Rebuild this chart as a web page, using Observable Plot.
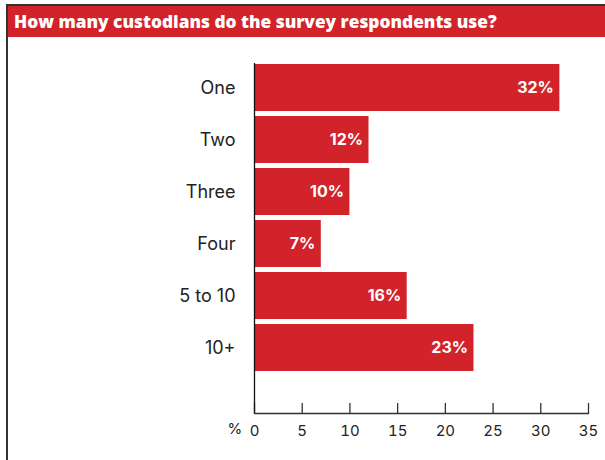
<!DOCTYPE html>
<html>
<head>
<meta charset="utf-8">
<script src="https://cdn.jsdelivr.net/npm/d3@7"></script>
<script src="https://cdn.jsdelivr.net/npm/@observablehq/plot@0.6"></script>
<style>
  html, body { margin: 0; padding: 0; background: #fff; }
  #wrap { position: absolute; left: 6px; top: 4px; width: 599px; height: 456px;
          border-top: 2px solid #333; border-left: 2px solid #333; }
  #title { height: 31px; background: #d2232a; color: #fff; font-family: "Open Sans", sans-serif;
           font-weight: 800; font-size: 17.3px; line-height: 31px; padding-left: 6px; white-space: nowrap; }
  #chart svg { display: block; }
</style>
</head>
<body>
<div id="wrap">
  <div id="title">How many custodians do the survey respondents use?</div>
  <div id="chart"></div>
</div>
<script>
const categories = ["One", "Two", "Three", "Four", "5 to 10", "10+"];
const values = [32, 12, 10, 7, 16, 23];
const xTicks = [0, 5, 10, 15, 20, 25, 30, 35];
const unitLabel = "%";

const data = categories.map((c, i) => ({category: c, value: values[i]}));
const red = "#d2232a";
const ink = "#222";
const font = "Inter, 'Open Sans', sans-serif";

const chart = Plot.plot({
  width: 597,
  height: 423,
  marginLeft: 246,
  marginRight: 17,
  marginTop: 26,
  marginBottom: 47,
  style: {fontFamily: font, color: ink, background: "#fff"},
  x: {domain: [0, 35], ticks: xTicks},
  y: {domain: categories, range: [26.5, 334.5], paddingInner: 0.1, paddingOuter: 0, axis: null},
  marks: [
    Plot.barX(data, {x: "value", y: "category", fill: red}),
    Plot.text(data, {x: "value", y: "category", text: d => d.value + "%", textAnchor: "end", dx: -6,
      fill: "#fff", fontWeight: "bold", fontSize: 16}),
    Plot.text(data, {x: 0, y: "category", text: "category", textAnchor: "end", dx: -19,
      fill: ink, fontSize: 18}),
    Plot.ruleX(xTicks, {x: d => d, insetTop: 340, stroke: "#333", strokeWidth: 1.3}),
    Plot.ruleX([0], {stroke: "#111", strokeWidth: 1.3}),
    Plot.frame({anchor: "bottom", stroke: "#333", strokeWidth: 1.3}),
    Plot.axisX(xTicks, {tickSize: 0, tickPadding: 12, fontSize: 15, fill: ink, label: null}),
    Plot.text([unitLabel], {frameAnchor: "bottom-left", dx: -27, dy: 20, fontSize: 15, fill: ink})
  ]
});
document.getElementById("chart").appendChild(chart);
</script>
</body>
</html>
